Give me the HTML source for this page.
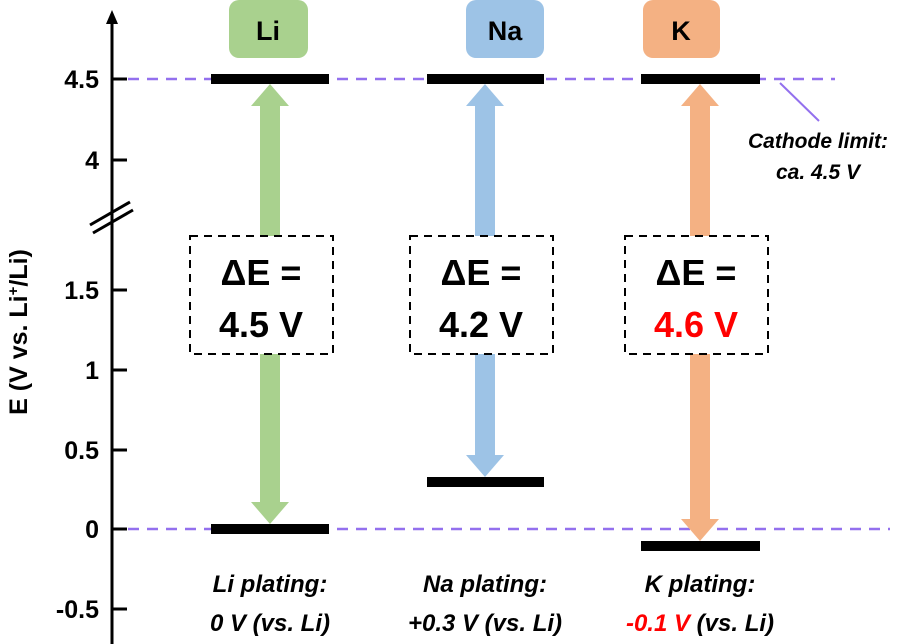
<!DOCTYPE html>
<html><head><style>
html,body{margin:0;padding:0;background:#fff;}
svg{display:block;}
text{font-family:"Liberation Sans",sans-serif;font-weight:bold;}
</style></head><body>
<svg width="900" height="644" viewBox="0 0 900 644" xmlns="http://www.w3.org/2000/svg">
<g stroke="#9370ee" stroke-width="2.5" stroke-dasharray="11,8">
<line x1="128" y1="79" x2="835" y2="79"/>
<line x1="128" y1="529" x2="890" y2="529"/>
</g>
<line x1="780" y1="83" x2="819" y2="121" stroke="#9370ee" stroke-width="2"/>
<line x1="112" y1="18" x2="112" y2="644" stroke="#000" stroke-width="3"/>
<polygon points="112,10 106,24 118,24" fill="#000"/>
<g stroke="#000" stroke-width="3">
<line x1="112" y1="79" x2="127" y2="79"/>
<line x1="112" y1="160" x2="127" y2="160"/>
<line x1="112" y1="290" x2="127" y2="290"/>
<line x1="112" y1="370" x2="127" y2="370"/>
<line x1="112" y1="450" x2="127" y2="450"/>
<line x1="112" y1="529" x2="127" y2="529"/>
<line x1="112" y1="609" x2="127" y2="609"/>
<line x1="90" y1="225" x2="130" y2="202"/>
<line x1="93" y1="233" x2="133" y2="210"/>
</g>
<g font-size="25" text-anchor="end">
<text x="99" y="88">4.5</text>
<text x="99" y="169">4</text>
<text x="99" y="299">1.5</text>
<text x="99" y="379">1</text>
<text x="99" y="459">0.5</text>
<text x="99" y="538">0</text>
<text x="99" y="618">-0.5</text>
</g>
<text transform="translate(27,332) rotate(-90)" font-size="25" text-anchor="middle">E (V vs. Li<tspan font-size="15" dy="-9">+</tspan><tspan dy="9">/Li)</tspan></text>
<rect x="229" y="0" width="79" height="58" rx="10" fill="#a9d18e"/>
<rect x="466" y="0" width="78" height="58" rx="10" fill="#9dc3e6"/>
<rect x="643" y="0" width="77" height="58" rx="10" fill="#f4b183"/>
<g font-size="27" text-anchor="middle">
<text x="268" y="40">Li</text>
<text x="505" y="40">Na</text>
<text x="681" y="40">K</text>
</g>
<g fill="#a9d18e">
<rect x="260" y="104" width="20" height="400"/>
<polygon points="270,84 251,106 289,106"/>
<polygon points="270,524 251,502 289,502"/>
</g>
<g fill="#9dc3e6">
<rect x="475" y="104" width="20" height="354"/>
<polygon points="485,84 466,106 504,106"/>
<polygon points="485,477 466,455 504,455"/>
</g>
<g fill="#f4b183">
<rect x="690" y="104" width="20" height="417"/>
<polygon points="700,84 681,106 719,106"/>
<polygon points="700,541 681,519 719,519"/>
</g>
<g fill="#000">
<rect x="211" y="74" width="118" height="10"/>
<rect x="427" y="74" width="117" height="10"/>
<rect x="641" y="74" width="119" height="10"/>
<rect x="211" y="524" width="118" height="10"/>
<rect x="427" y="477" width="117" height="10"/>
<rect x="641" y="541" width="119" height="10"/>
</g>
<g fill="#fff" stroke="#000" stroke-width="2" stroke-dasharray="8,6">
<rect x="190" y="236" width="143" height="118"/>
<rect x="410" y="236" width="143" height="118"/>
<rect x="625" y="236" width="143" height="118"/>
</g>
<g font-size="36" text-anchor="middle">
<text x="261" y="285">ΔE =</text>
<text x="261" y="337">4.5 V</text>
<text x="481" y="285">ΔE =</text>
<text x="481" y="337">4.2 V</text>
<text x="696" y="285">ΔE =</text>
<text x="696" y="337" fill="#ff0000">4.6 V</text>
</g>
<g font-size="24" font-style="italic" text-anchor="middle">
<text x="270" y="592">Li plating:</text>
<text x="270" y="631">0 V (vs. Li)</text>
<text x="485" y="592">Na plating:</text>
<text x="485" y="631">+0.3 V (vs. Li)</text>
<text x="700" y="592">K plating:</text>
<text x="700" y="631"><tspan fill="#ff0000">-0.1 V</tspan> (vs. Li)</text>
</g>
<g font-size="21" font-style="italic" text-anchor="middle">
<text x="818" y="148">Cathode limit:</text>
<text x="818" y="179">ca. 4.5 V</text>
</g>
</svg>
</body></html>
